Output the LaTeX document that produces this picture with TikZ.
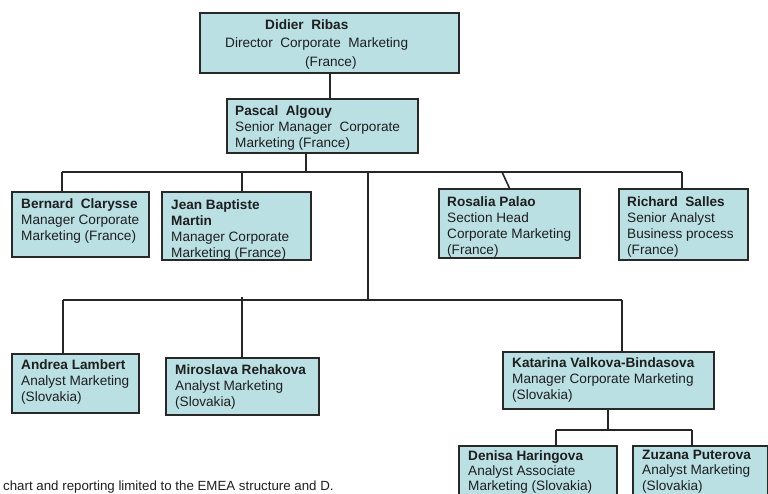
\documentclass[tikz,border=0pt]{standalone}
\usepackage{fontspec}
\setmainfont{Liberation Sans}
\definecolor{boxfill}{RGB}{186,224,228}
\definecolor{boxline}{RGB}{40,40,40}
\definecolor{txtcol}{RGB}{30,30,30}
\begin{document}
\begin{tikzpicture}[x=1pt,y=-1pt,
  orgbox/.style={draw=boxline,fill=boxfill,line width=1.8pt,inner sep=0pt,anchor=north west,rectangle},
  orgtxt/.style={inner sep=0pt,anchor=north west,align=left,text=txtcol,font=\fontsize{13.6}{16}\selectfont},
  conn/.style={draw=black!85,line width=1.6pt}]
\useasboundingbox (0,0) rectangle (768,493);
\clip (0,0) rectangle (768,493);
\fill[white] (0,0) rectangle (768,493);

% boxes
\node[orgbox,minimum width=259pt,minimum height=60pt] (didier) at (199,12) {};
\node[orgbox,minimum width=191pt,minimum height=54pt] (pascal) at (226,98) {};
\node[orgbox,minimum width=137pt,minimum height=65pt] (bernard) at (11,191) {};
\node[orgbox,minimum width=149pt,minimum height=68pt] (jean) at (161,191) {};
\node[orgbox,minimum width=141pt,minimum height=69pt] (rosalia) at (438,188) {};
\node[orgbox,minimum width=129pt,minimum height=71pt] (richard) at (618,188) {};
\node[orgbox,minimum width=127pt,minimum height=59pt] (andrea) at (11,353) {};
\node[orgbox,minimum width=153pt,minimum height=57pt] (miroslava) at (165,357) {};
\node[orgbox,minimum width=211pt,minimum height=57pt] (katarina) at (502,351) {};
\node[orgbox,minimum width=158pt,minimum height=62pt] (denisa) at (458,445) {};
\node[orgbox,minimum width=135pt,minimum height=62pt] (zuzana) at (632,445) {};

% texts
\node[orgtxt,font=\fontsize{13.6}{18.5}\selectfont] (didiert) at (225,19)
  {\hspace*{40pt}\textbf{Didier\ \ Ribas}\\Director\ \ Corporate\ \ Marketing\\\hspace*{80pt}(France)};
\node[orgtxt] (pascalt) at ([xshift=9pt,yshift=-7pt]pascal.north west)
  {\textbf{Pascal\ \ Algouy}\\Senior Manager\ \ Corporate\\Marketing (France)};
\node[orgtxt] (bernardt) at ([xshift=10pt,yshift=-7pt]bernard.north west)
  {\textbf{Bernard\ \ Clarysse}\\Manager Corporate\\Marketing (France)};
\node[orgtxt] (jeant) at ([xshift=10pt,yshift=-8pt]jean.north west)
  {\textbf{Jean Baptiste}\\\textbf{Martin}\\Manager Corporate\\Marketing (France)};
\node[orgtxt] (rosaliat) at ([xshift=9pt,yshift=-8pt]rosalia.north west)
  {\textbf{Rosalia Palao}\\Section Head\\Corporate Marketing\\(France)};
\node[orgtxt] (richardt) at ([xshift=9pt,yshift=-8pt]richard.north west)
  {\textbf{Richard\ \ Salles}\\Senior Analyst\\Business process\\(France)};
\node[orgtxt] (andreat) at ([xshift=10pt,yshift=-6pt]andrea.north west)
  {\textbf{Andrea Lambert}\\Analyst Marketing\\(Slovakia)};
\node[orgtxt] (miroslavat) at ([xshift=10pt,yshift=-7pt]miroslava.north west)
  {\textbf{Miroslava Rehakova}\\Analyst Marketing\\(Slovakia)};
\node[orgtxt] (katarinat) at ([xshift=10pt,yshift=-6pt]katarina.north west)
  {\textbf{Katarina Valkova-Bindasova}\\Manager Corporate Marketing\\(Slovakia)};
\node[orgtxt,font=\fontsize{13.6}{15.4}\selectfont] (denisat) at ([xshift=10pt,yshift=-5pt]denisa.north west)
  {\textbf{Denisa Haringova}\\Analyst Associate\\Marketing (Slovakia)};
\node[orgtxt,font=\fontsize{13.6}{15.4}\selectfont] (zuzanat) at ([xshift=10pt,yshift=-5pt]zuzana.north west)
  {\textbf{Zuzana Puterova}\\Analyst Marketing\\(Slovakia)};

% footer
\node[inner sep=0pt,anchor=base west,text=txtcol,font=\fontsize{13.3}{15}\selectfont] (footer) at (3,490)
  {chart and reporting limited to the EMEA structure and D.};

% junction coordinates
\coordinate (dj) at (330,72);
\coordinate (pj) at (306,172);
\coordinate (b1) at (62,172);
\coordinate (b2) at (242,172);
\coordinate (b3) at (502,172);
\coordinate (b4) at (682,172);
\coordinate (mid) at (368,172);
\coordinate (lj) at (368,300);
\coordinate (l1) at (63,300);
\coordinate (l2) at (242,297);
\coordinate (l3) at (622,300);
\coordinate (kj) at (608,430);
\coordinate (k1) at (556,430);
\coordinate (k2) at (692,430);

% connectors
\draw[conn] (didier.south -| dj) -- (dj |- pascal.north);
\draw[conn] (pascal.south -| pj) -- (pj);
\draw[conn] (b1) -- (b4);
\draw[conn] (b1) -- (b1 |- bernard.north);
\draw[conn] (b2) -- (b2 |- jean.north);
\draw[conn] (b3) -- (rosalia.north);
\draw[conn] (b4) -- (b4 |- richard.north);
\draw[conn] (mid) -- (lj);
\draw[conn] (l1) -- (l3);
\draw[conn] (l1) -- (l1 |- andrea.north);
\draw[conn] (l2) -- (l2 |- miroslava.north);
\draw[conn] (l3) -- (l3 |- katarina.north);
\draw[conn] (katarina.south -| kj) -- (kj);
\draw[conn] (k1) -- (k2);
\draw[conn] (k1) -- (k1 |- denisa.north);
\draw[conn] (k2) -- (k2 |- zuzana.north);
\end{tikzpicture}
\end{document}
